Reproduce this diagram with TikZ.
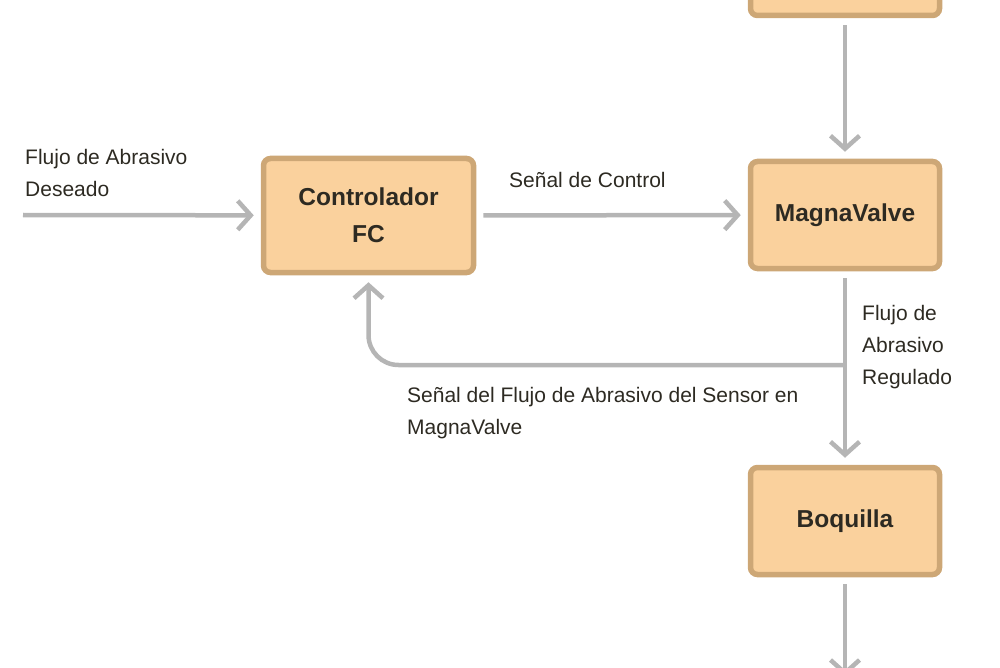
\documentclass[tikz,border=0pt]{standalone}
\usepackage{fontspec}
\setmainfont{Liberation Sans}
\usepackage{tikz}
\usetikzlibrary{arrows.meta}

\definecolor{boxfill}{RGB}{250,209,157}
\definecolor{boxline}{RGB}{205,167,118}
\definecolor{arrowgray}{RGB}{181,181,181}
\definecolor{textdark}{RGB}{45,42,34}

\begin{document}
\begin{tikzpicture}[x=1pt,y=-1pt]
        \useasboundingbox (0,0) rectangle (1000,668);
        \begin{scope}[every node/.style={fill=boxfill,draw=boxline,line width=5.5pt,rounded corners=7pt,
                minimum width=189pt,minimum height=107pt,align=center,text=textdark,
                font=\fontsize{24.5}{37}\selectfont\bfseries}]
            \node (fuente) at (845,-38) {};
            \node[minimum width=210pt,minimum height=114pt] (ctrl) at (368.5,215.5) {Controlador\\FC};
            \node (magna) at (845,215) {MagnaValve};
            \node (boquilla) at (845,521) {Boquilla};
        \end{scope}
        \begin{scope}[every node/.style={text=textdark,inner sep=0pt,align=left,anchor=west,
                font=\fontsize{21}{32}\selectfont}]
            \node (lbldeseado) at (25,173) {Flujo de Abrasivo\\Deseado};
            \node (lblcontrol) at (509,180) {Señal de Control};
            \node (lblregulado) at (862,347) {Flujo de\\Abrasivo\\Regulado};
            \node (lblsensor) at (407,413) {Señal del Flujo de Abrasivo del Sensor en\\MagnaValve};
        \end{scope}
        \coordinate (entrada) at (23,215);
        \coordinate (rama) at (845,365);
        \coordinate (salida) at (845,676);
        \begin{scope}[every edge/.style={draw,arrowgray,line width=4.5pt,
                -{Straight Barb[length=13pt,width=29pt]},shorten >=7pt}]
            \path (entrada) edge (ctrl);
            \path (ctrl) edge[shorten <=7pt] (magna);
            \path (fuente) edge[shorten <=7pt] (magna);
            \path (magna) edge[shorten <=7pt] (boquilla);
            \path (boquilla) edge[shorten <=7pt,shorten >=0pt] (salida);
        \end{scope}
        \draw[arrowgray,line width=4.5pt,rounded corners=30pt,-{Straight Barb[length=13pt,width=29pt]},shorten >=7pt]
            (rama) -| (ctrl.south);
    \end{tikzpicture}
\end{document}
